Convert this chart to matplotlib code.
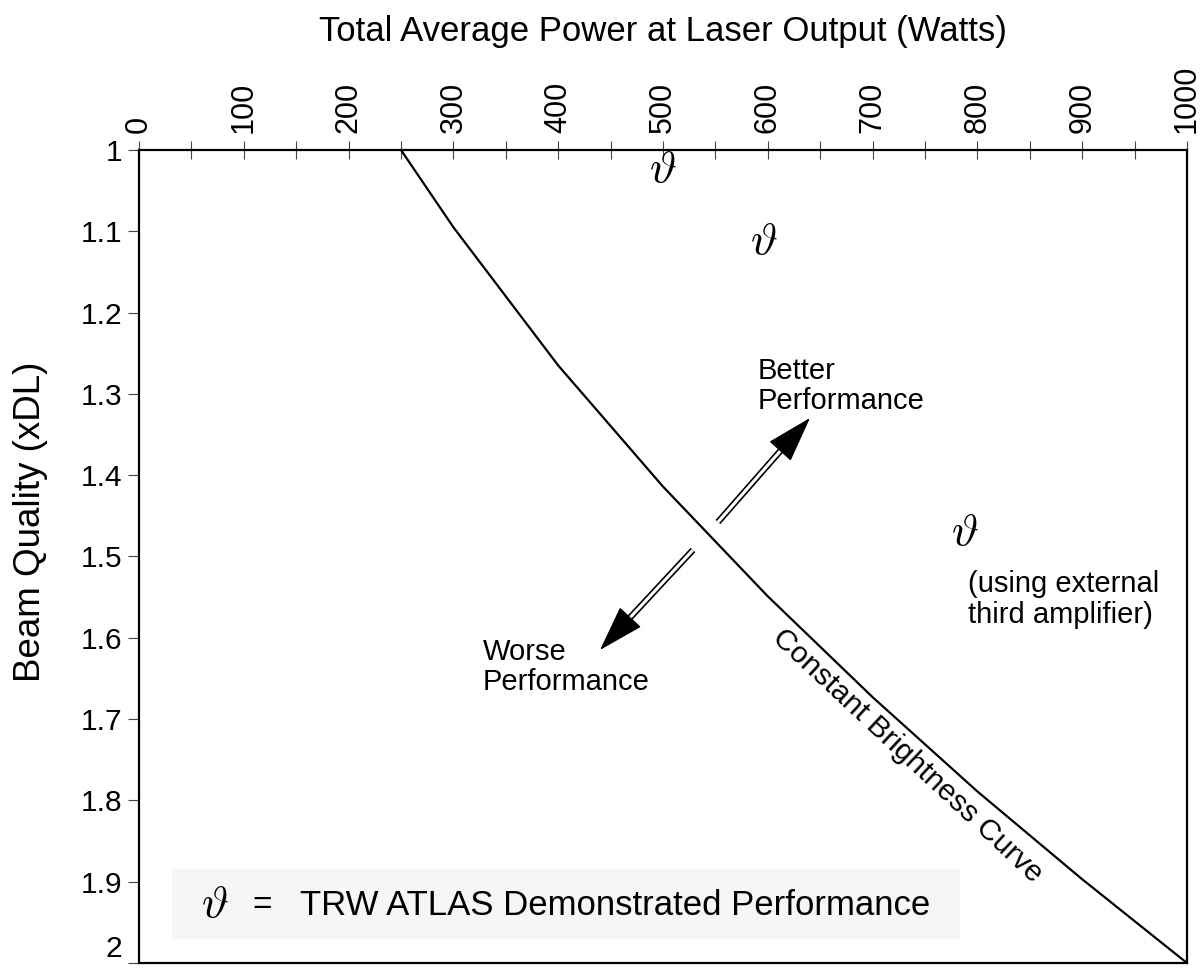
import matplotlib
matplotlib.use("Agg")
import matplotlib.pyplot as plt
from matplotlib.patches import Rectangle

plt.rcParams['font.family'] = ['Liberation Sans', 'DejaVu Sans']
plt.rcParams['mathtext.fontset'] = 'cm'

# constant brightness curve (power in W, beam quality in xDL)
curve_power = [250, 300, 400, 500, 600, 700, 800, 900, 1000]
curve_bq = [1.0, 1.095, 1.265, 1.414, 1.549, 1.673, 1.789, 1.897, 2.0]

# demonstrated ATLAS points
demo_power = [500, 596, 788]
demo_bq = [1.025, 1.113, 1.471]

x_ticks = [0, 100, 200, 300, 400, 500, 600, 700, 800, 900, 1000]
y_ticks = [1, 1.1, 1.2, 1.3, 1.4, 1.5, 1.6, 1.7, 1.8, 1.9, 2]
y_tick_labels = ["1", "1.1", "1.2", "1.3", "1.4", "1.5", "1.6", "1.7", "1.8", "1.9", "2"]

# arrows: (tail, head base, tip)
better_arrow = [(552.5, 1.4576), (613.2, 1.3684), (640.3, 1.3296)]
worse_arrow = [(528.6, 1.492), (467.2, 1.5771), (439.9, 1.615)]

fig = plt.figure(figsize=(12.03, 9.75), dpi=100)
ax = fig.add_axes([0.1155, 0.0123, 0.8712, 0.8339])

ax.plot(curve_power, curve_bq, color='black', lw=1.6, solid_joinstyle='miter')

for p, q in zip(demo_power, demo_bq):
    ax.text(p, q, r'$\vartheta$', fontsize=33, ha='center', va='center')

ax.set_xlim(0, 1000)
ax.set_ylim(2, 1)

ax.xaxis.tick_top()
ax.set_xticks(x_ticks)
ax.set_xticks(range(50, 1000, 100), minor=True)
ax.set_xticklabels([str(v) for v in x_ticks], rotation=90, fontsize=22)
ax.tick_params(axis='x', which='both', direction='inout', length=13, width=0.8,
               color='#444444', pad=6, top=True, bottom=False)
ax.set_yticks(y_ticks)
ax.set_yticklabels(y_tick_labels, fontsize=21.5)
ax.tick_params(axis='y', direction='out', length=8, width=0.8, color='#444444',
               pad=4, left=True, right=False)
# keep the last label inside the canvas
ax.get_yticklabels()[-1].set_verticalalignment('bottom')
ax.get_yticklabels()[-1].set_y(2)

for s in ax.spines.values():
    s.set_linewidth(1.6)

fig.text(0.551, 0.968, "Total Average Power at Laser Output (Watts)", fontsize=25,
         ha='center', va='center')
fig.text(0.025, 0.465, "Beam Quality (xDL)", fontsize=26.5, rotation=90,
         ha='center', va='center')


def double_arrow(pts):
    (x0, y0), (x1, y1), (x2, y2) = pts
    ax.plot([x0, x1], [y0, y1], color='black', lw=4.6, solid_capstyle='butt')
    ax.plot([x0, x1], [y0, y1], color='white', lw=2.2, solid_capstyle='butt')
    ax.annotate('', xy=(x2, y2), xytext=(x1, y1),
                arrowprops=dict(arrowstyle='-|>,head_length=3.0,head_width=0.95',
                                mutation_scale=10, color='black', lw=1,
                                shrinkA=0, shrinkB=0))


double_arrow(better_arrow)
double_arrow(worse_arrow)

ax.text(590, 1.255, "Better\nPerformance", fontsize=21, ha='left', va='top',
        linespacing=1.1)
ax.text(328, 1.600, "Worse\nPerformance", fontsize=21, ha='left', va='top',
        linespacing=1.1)
ax.text(791, 1.517, "(using external\nthird amplifier)", fontsize=21, ha='left',
        va='top', linespacing=1.1)
ax.text(733, 1.745, "Constant Brightness Curve", fontsize=21.5, rotation=-43,
        ha='center', va='center', rotation_mode='anchor')

# legend box
ax.add_patch(Rectangle((0.0315, 0.0295), 0.7515, 0.0861, transform=ax.transAxes,
                       facecolor='#f6f6f6', edgecolor='none', zorder=1))
ax.text(0.0725, 0.0713, r'$\vartheta$', fontsize=33, ha='center', va='center',
        transform=ax.transAxes, zorder=2)
ax.text(0.118, 0.0713, "=", fontsize=24, ha='center', va='center',
        transform=ax.transAxes, zorder=2)
ax.text(0.1536, 0.0713, "TRW ATLAS Demonstrated Performance", fontsize=25,
        ha='left', va='center', transform=ax.transAxes, zorder=2)

fig.savefig("out.png", dpi=100)
